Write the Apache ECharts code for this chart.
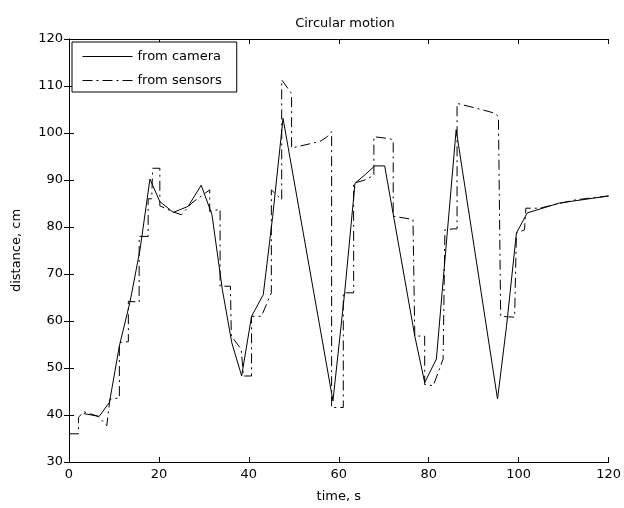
<!DOCTYPE html>
<html>
<head>
<meta charset="utf-8">
<title>Circular motion</title>
<script src="https://cdn.jsdelivr.net/npm/echarts@6/dist/echarts.min.js"></script>
<style>
  body { margin: 0; background: #fff; }
</style>
</head>
<body>
	<div id="main" style="width: 624px; height: 508px;"></div>

	<script type="text/javascript">
		// values: [time s, distance cm]
		var cameraData = [
			[3.3, 40.3], [6.7, 39.7], [9, 42.7], [11.2, 54.7], [13.6, 64.2], [15.8, 75.2],
			[18, 90.2], [20.2, 85.4], [23.2, 83.1], [26.5, 84.4], [29.4, 88.9], [31.8, 82.6],
			[34.1, 66.7], [36.2, 55.4], [38.4, 48.3], [40.6, 61], [43.2, 65.6], [45.3, 82.3],
			[47.6, 103.1], [58.7, 43.0], [61.3, 66], [63.6, 89.3], [65.8, 91.1], [68, 93],
			[70.2, 93], [76.9, 56.8], [79.1, 46.9], [81.7, 51.9], [86.1, 100.7], [95.3, 43.4],
			[97.3, 58.9], [99.5, 78.7], [101.9, 83], [109.1, 85.1], [120, 86.6]
		];

		var sensorData = [
			[0, 36], [2.1, 36], [2.1, 39.5], [3.3, 40.7], [6.5, 39.7], [8.4, 37.7], [9.1, 43.4],
			[11.2, 43.6], [11.2, 55.4], [13.2, 55.6], [13.2, 64.2], [15.6, 64], [15.6, 78],
			[17.6, 78], [17.6, 86], [18.4, 86], [18.6, 92.5], [20.2, 92.5], [20.2, 84.5],
			[23.2, 83.2], [25, 82.6], [27.3, 85.1], [31.3, 87.9], [31.3, 83.3], [33.6, 83.8],
			[33.6, 67.4], [35.9, 67.4], [36.1, 56.8], [38.3, 54], [38.8, 48.3], [40.6, 48.3],
			[40.6, 61], [42.8, 61], [45, 66], [45, 87.9], [47.3, 85.8], [47.3, 111.3],
			[49.5, 108.4], [49.5, 96.8], [55.8, 98.2], [57.3, 99.1], [58.4, 100.3], [58.4, 41.6],
			[61, 41.6], [61, 66], [63.3, 66], [63.3, 89.3], [65.8, 90], [67.8, 91], [67.8, 99.2],
			[71.3, 98.8], [72.1, 98.5], [72.1, 82.3], [76.5, 81.6], [76.9, 81.6], [76.9, 56.8],
			[79.1, 56.8], [79.1, 46.5], [81, 46.2], [83.2, 51.9], [83.6, 51.9], [83.6, 79.4],
			[85.4, 79.6], [86.3, 79.6], [86.3, 106.3], [92.1, 104.9], [94.7, 104.2], [95.5, 103.5],
			[96, 61], [99.1, 60.8], [99.5, 60.8], [99.5, 78.7], [101.3, 79.4], [101.6, 79.4],
			[101.6, 84], [104.7, 84], [109.5, 85.1], [112.8, 85.8], [120, 86.6]
		];

		var xTicks = [0, 20, 40, 60, 80, 100, 120];
		var yTicks = [30, 40, 50, 60, 70, 80, 90, 100, 110, 120];

		var myChart = echarts.init(document.getElementById('main'));

		var font = 'DejaVu Sans, Liberation Sans, sans-serif';
		var axisLine = { show: true, lineStyle: { color: '#000', width: 1 } };
		var tickIn = { show: true, inside: true, length: 5, lineStyle: { color: '#000' } };
		var dashDot = [10, 4, 2, 4];

		var option = {
			animation: false,
			backgroundColor: '#fff',
			title: {
				text: 'Circular motion',
				left: 340,
				textAlign: 'center',
				top: 12,
				textStyle: { fontFamily: font, fontSize: 13, fontWeight: 'normal', color: '#000' }
			},
			legend: {
				left: 72,
				top: 42,
				orient: 'vertical',
				itemWidth: 50,
				itemHeight: 14,
				itemGap: 11,
				padding: [8, 15, 5, 10],
				borderColor: '#000',
				borderWidth: 1,
				borderRadius: 0,
				backgroundColor: '#fff',
				itemStyle: { opacity: 0 },
				lineStyle: { width: 1 },
				textStyle: { fontFamily: font, fontSize: 13, color: '#000' },
				data: ['from camera', 'from sensors']
			},
			grid: { left: 69, right: 14, top: 39, bottom: 45 },
			xAxis: [{
				type: 'value',
				min: xTicks[0],
				max: xTicks[xTicks.length - 1],
				interval: 20,
				name: 'time, s',
				nameLocation: 'middle',
				nameGap: 28,
				nameTextStyle: { fontFamily: font, fontSize: 13, color: '#000' },
				axisLine: axisLine,
				axisTick: tickIn,
				axisLabel: { fontFamily: font, fontSize: 13, color: '#000', margin: 6 },
				splitLine: { show: false }
			}, {
				type: 'value',
				position: 'top',
				min: xTicks[0],
				max: xTicks[xTicks.length - 1],
				interval: 20,
				axisLine: axisLine,
				axisTick: tickIn,
				axisLabel: { show: false },
				splitLine: { show: false }
			}],
			yAxis: [{
				type: 'value',
				min: yTicks[0],
				max: yTicks[yTicks.length - 1],
				interval: 10,
				name: 'distance, cm',
				nameLocation: 'middle',
				nameGap: 46,
				nameTextStyle: { fontFamily: font, fontSize: 13, color: '#000' },
				axisLine: axisLine,
				axisTick: tickIn,
				axisLabel: { fontFamily: font, fontSize: 13, color: '#000', margin: 6 },
				splitLine: { show: false }
			}, {
				type: 'value',
				position: 'right',
				min: yTicks[0],
				max: yTicks[yTicks.length - 1],
				interval: 10,
				axisLine: axisLine,
				axisTick: tickIn,
				axisLabel: { show: false },
				splitLine: { show: false }
			}],
			series: [
				{
					name: 'from camera',
					type: 'line',
					symbol: 'none',
					data: cameraData,
					lineStyle: { color: '#000', width: 1 },
					itemStyle: { color: '#000' }
				},
				{
					name: 'from sensors',
					type: 'line',
					symbol: 'none',
					data: sensorData,
					lineStyle: { color: '#000', width: 1, type: dashDot },
					itemStyle: { color: '#000' }
				}
			]
		};

		myChart.setOption(option);
	</script>
</body>
</html>
